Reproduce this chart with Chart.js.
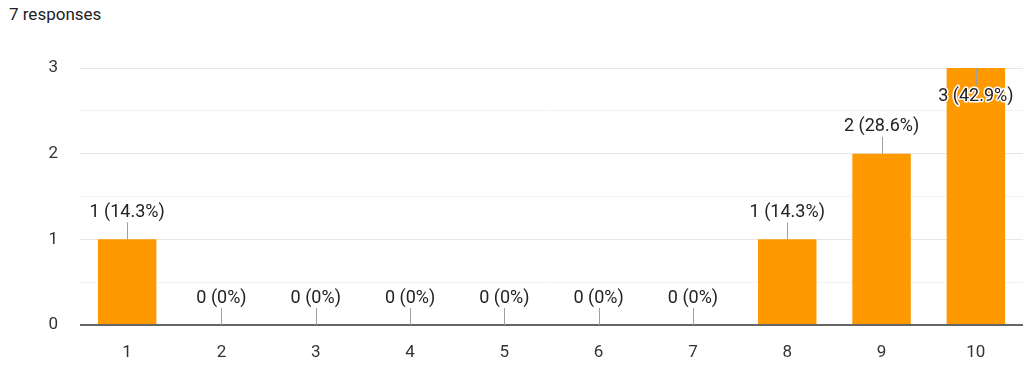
<!DOCTYPE html>
<html>
<head>
<meta charset="utf-8">
<script src="https://cdn.jsdelivr.net/npm/chart.js@4/dist/chart.umd.min.js"></script>
<style>
  html, body { margin: 0; padding: 0; background: #fff; }
  #wrap { position: relative; width: 1024px; height: 367px; }
  #title { position: absolute; left: 9px; top: 4px; font: 17px Roboto, sans-serif; color: #202124; }
  canvas { position: absolute; left: 0; top: 0; }
</style>
</head>
<body>
<div id="wrap">
  <div id="title">7 responses</div>
  <canvas id="chart" width="1024" height="367"></canvas>
</div>
<script>
const categories = ["1", "2", "3", "4", "5", "6", "7", "8", "9", "10"];
const counts = [1, 0, 0, 0, 0, 0, 0, 1, 2, 3];
const percents = ["14.3%", "0%", "0%", "0%", "0%", "0%", "0%", "14.3%", "28.6%", "42.9%"];
const yTicks = [0, 1, 2, 3];

const FONT = "Roboto, sans-serif";

// value labels with a small leader line, like google forms
const barLabels = {
  id: "barLabels",
  afterDatasetsDraw(chart) {
    const ctx = chart.ctx;
    const meta = chart.getDatasetMeta(0);
    const area = chart.chartArea;
    ctx.save();
    ctx.font = "18px " + FONT;
    ctx.textAlign = "center";
    ctx.textBaseline = "middle";
    meta.data.forEach((bar, i) => {
      const text = counts[i] + " (" + percents[i] + ")";
      const top = bar.y;
      const lead = 17;
      let lineEnd, textY;
      if (top - lead - 20 < area.top) {
        lineEnd = top + lead;
        textY = lineEnd + 11;
      } else {
        lineEnd = top - lead;
        textY = lineEnd - 10;
      }
      ctx.strokeStyle = "#9e9e9e";
      ctx.lineWidth = 1;
      ctx.beginPath();
      ctx.moveTo(Math.round(bar.x) + 0.5, top);
      ctx.lineTo(Math.round(bar.x) + 0.5, lineEnd);
      ctx.stroke();
      ctx.lineWidth = 3;
      ctx.strokeStyle = "#fff";
      ctx.lineJoin = "round";
      ctx.strokeText(text, bar.x, textY);
      ctx.fillStyle = "#222";
      ctx.fillText(text, bar.x, textY);
    });
    ctx.restore();
  }
};

new Chart(document.getElementById("chart"), {
  type: "bar",
  data: {
    labels: categories,
    datasets: [{
      data: counts,
      backgroundColor: "#ff9900",
      categoryPercentage: 1,
      barPercentage: 0.62
    }]
  },
  options: {
    responsive: false,
    animation: false,
    layout: { padding: { top: 68, right: 1, left: 0, bottom: 0 } },
    plugins: { legend: { display: false }, tooltip: { enabled: false } },
    scales: {
      x: {
        grid: { display: false },
        border: { display: false },
        ticks: { color: "#333", font: { family: FONT, size: 17 }, padding: 10 },
        afterFit(scale) { scale.height = 42; }
      },
      y: {
        min: 0,
        max: 3,
        border: { display: false },
        grid: {
          drawTicks: false,
          color: c => c.tick.value === 0 ? "#666" : (Number.isInteger(c.tick.value) ? "#e6e6e6" : "#f2f2f2"),
          lineWidth: c => c.tick.value === 0 ? 2 : 1
        },
        ticks: {
          stepSize: 0.5,
          color: "#333",
          font: { family: FONT, size: 17 },
          padding: 22,
          callback: v => yTicks.includes(v) ? String(v) : ""
        },
        afterFit(scale) { scale.width = 80; }
      }
    }
  },
  plugins: [barLabels]
});
</script>
</body>
</html>
